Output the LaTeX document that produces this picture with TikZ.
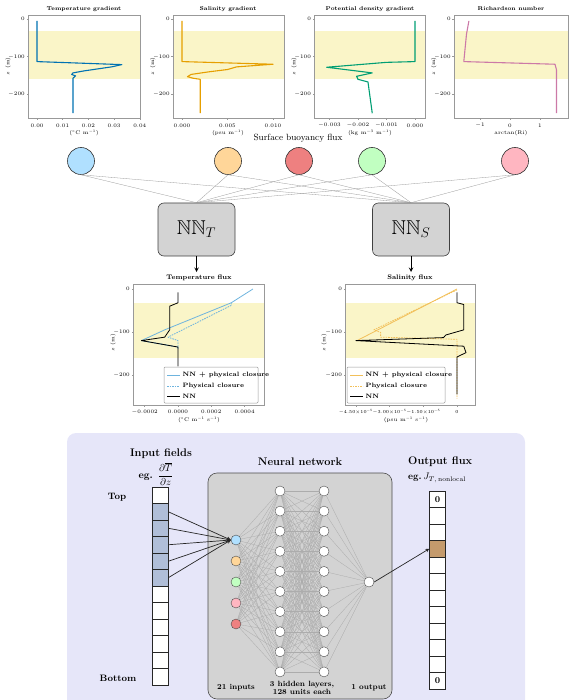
\RequirePackage{fix-cm}
\documentclass[tikz,border=0pt]{standalone}
\usepackage{fontspec}
\usepackage{amssymb}
\usepackage{tikz}
\usetikzlibrary{positioning}
\usetikzlibrary{shapes.geometric, arrows}
\definecolor{band}{RGB}{250,245,200}
\definecolor{lineT}{RGB}{0,114,178}
\definecolor{lineS}{RGB}{230,159,0}
\definecolor{lineRho}{RGB}{0,158,115}
\definecolor{lineRi}{RGB}{204,121,167}
\definecolor{fluxT}{RGB}{110,180,222}
\definecolor{fluxS}{RGB}{242,192,90}
\definecolor{featT}{RGB}{176,224,255}
\definecolor{featS}{RGB}{255,214,153}
\definecolor{featQ}{RGB}{238,128,128}
\definecolor{featRho}{RGB}{193,255,193}
\definecolor{featRi}{RGB}{255,182,193}
\definecolor{bgLav}{RGB}{230,230,249}
\definecolor{boxGray}{RGB}{211,211,211}
\definecolor{cellblue}{RGB}{176,190,216}
\definecolor{cellbrown}{RGB}{196,154,108}
\tikzstyle{frame} = [draw=gray!80, line width=0.5pt]
\tikzstyle{ticklab} = [font=\fontsize{5.3}{6}\selectfont, inner sep=0.5pt]
\tikzstyle{ptitle} = [font=\fontsize{5.6}{6.5}\selectfont\bfseries, inner sep=1pt]
\tikzstyle{ftitle} = [font=\fontsize{6.6}{7.5}\selectfont\bfseries, inner sep=1pt]
\tikzstyle{curve} = [line width=1.1pt, line join=round]
\tikzstyle{legtext} = [font=\fontsize{6.3}{7}\selectfont\bfseries, anchor=west, inner sep=0.5pt]
\tikzstyle{feature} = [circle, draw=black!80, minimum size=27pt, inner sep=0pt, line width=0.6pt]
\tikzstyle{nnblock} = [rectangle, rounded corners=6pt, draw=black!75, fill=boxGray, minimum width=77pt, minimum height=53pt, line width=0.6pt, font=\fontsize{20}{22}\selectfont]
\tikzstyle{arrow} = [line width=1pt,->,>=stealth]
\tikzstyle{link} = [draw=gray!65, line width=0.3pt]
\tikzstyle{feed} = [draw=black!85, line width=0.7pt, ->, >=stealth]
\tikzstyle{neuron} = [circle, draw=black!70, fill=white, minimum size=10pt, inner sep=0pt, line width=0.4pt]
\tikzstyle{cell} = [rectangle, draw=black!85, minimum width=16pt, minimum height=16.5pt, inner sep=0pt, line width=0.5pt, font=\fontsize{9}{10}\selectfont\bfseries]
\tikzstyle{head} = [font=\fontsize{11}{13}\selectfont\bfseries, inner sep=1pt]
\tikzstyle{side} = [font=\fontsize{9.3}{11}\selectfont\bfseries, inner sep=1pt]
\tikzstyle{note} = [font=\fontsize{7.6}{8.6}\selectfont\bfseries, inner sep=1pt, align=center]
\begin{document}
\begin{tikzpicture}[x=1pt, y=-1pt]
\useasboundingbox (0,0) rectangle (571,700);
\clip (0,0) rectangle (571,700);

% ---- top row: input profiles
\begin{scope}[shift={(37,19)}, x=25.7pt, y=0.377pt]
  \fill[band] (-0.35,-32) rectangle (4.0,-160);
  \draw[curve, lineT] plot coordinates {(0,-5) (0,-113) (3.3,-121) (2.9,-127) (1.8,-138) (1.4,-143) (1.35,-147) (1.5,-151) (1.4,-157) (1.4,-250)};
  \draw[frame] (-0.35,10.6) rectangle (4.0,-263);
  \foreach \v/\l [count=\k] in {0/0.00,1/0.01,2/0.02,3/0.03,4/0.04} {
    \draw[frame] (\v,-263) -- ++(0,-1.5pt);
    \node[ticklab] (gTx\k) at ([yshift=-7.5pt]\v,-263) {\l};
  }
  \foreach \z/\l [count=\k] in {0/0,-100/$-100$,-200/$-200$} {
    \draw[frame] (-0.35,\z) -- ++(-1.5pt,0);
    \node[ticklab, anchor=east] (gTy\k) at ([xshift=-2.5pt]-0.35,\z) {\l};
  }
  \node[ticklab, rotate=90] (gTz) at ([xshift=-20pt]-0.35,-125) {$z$ (m)};
\end{scope}
\node[ptitle] (titleTgrad) at (84,9) {Temperature gradient};
\node[ticklab] (unitTgrad) at (84,133) {($^{\circ}$C m$^{-1}$)};

\begin{scope}[shift={(182,19)}, x=9.1pt, y=0.377pt]
  \fill[band] (-1,-32) rectangle (11.2,-160);
  \draw[curve, lineS] plot coordinates {(0,-5) (0,-113) (10,-120) (6,-127) (5,-134) (3,-140) (1,-147) (0.6,-153) (1.2,-157) (2,-160) (2,-250)};
  \draw[frame] (-1,10.6) rectangle (11.2,-263);
  \foreach \v/\l [count=\k] in {0/0.000,5/0.005,10/0.010} {
    \draw[frame] (\v,-263) -- ++(0,-1.5pt);
    \node[ticklab] (gSx\k) at ([yshift=-7.5pt]\v,-263) {\l};
  }
  \foreach \z/\l [count=\k] in {0/0,-100/$-100$,-200/$-200$} {
    \draw[frame] (-1,\z) -- ++(-1.5pt,0);
    \node[ticklab, anchor=east] (gSy\k) at ([xshift=-2.5pt]-1,\z) {\l};
  }
  \node[ticklab, rotate=90] (gSz) at ([xshift=-20pt]-1,-125) {$z$ (m)};
\end{scope}
\node[ptitle] (titleSgrad) at (228,9) {Salinity gradient};
\node[ticklab] (unitSgrad) at (228,133) {(psu m$^{-1}$)};

\begin{scope}[shift={(415,19)}, x=28.5pt, y=0.377pt]
  \fill[band] (-3.54,-32) rectangle (0.35,-160);
  \draw[curve, lineRho] plot coordinates {(0,-5) (0,-113) (-1,-115) (-3.1,-128) (-1.5,-143) (-2.05,-152) (-2.0,-160) (-1.65,-167) (-1.5,-250)};
  \draw[frame] (-3.54,10.6) rectangle (0.35,-263);
  \foreach \v/\l [count=\k] in {-3/$-0.003$,-2/$-0.002$,-1/$-0.001$,0/0.000} {
    \draw[frame] (\v,-263) -- ++(0,-1.5pt);
    \node[ticklab] (gRx\k) at ([yshift=-7.5pt]\v,-263) {\l};
  }
  \foreach \z/\l [count=\k] in {0/0,-100/$-100$,-200/$-200$} {
    \draw[frame] (-3.54,\z) -- ++(-1.5pt,0);
    \node[ticklab, anchor=east] (gRy\k) at ([xshift=-2.5pt]-3.54,\z) {\l};
  }
  \node[ticklab, rotate=90] (gRz) at ([xshift=-20pt]-3.54,-125) {$z$ (m)};
\end{scope}
\node[ptitle] (titleRho) at (370,9) {Potential density gradient};
\node[ticklab] (unitRho) at (370,133) {(kg m$^{-3}$ m$^{-1}$)};

\begin{scope}[shift={(510,19)}, x=30pt, y=0.377pt]
  \fill[band] (-1.87,-32) rectangle (1.93,-160);
  \draw[curve, lineRi] plot coordinates {(-1.37,-5) (-1.45,-40) (-1.54,-113) (1.5,-120) (1.55,-135) (1.55,-250)};
  \draw[frame] (-1.87,10.6) rectangle (1.93,-263);
  \foreach \v/\l [count=\k] in {-1/$-1$,0/0,1/1} {
    \draw[frame] (\v,-263) -- ++(0,-1.5pt);
    \node[ticklab] (gIx\k) at ([yshift=-7.5pt]\v,-263) {\l};
  }
  \foreach \z/\l [count=\k] in {0/0,-100/$-100$,-200/$-200$} {
    \draw[frame] (-1.87,\z) -- ++(-1.5pt,0);
    \node[ticklab, anchor=east] (gIy\k) at ([xshift=-2.5pt]-1.87,\z) {\l};
  }
  \node[ticklab, rotate=90] (gIz) at ([xshift=-20pt]-1.87,-125) {$z$ (m)};
\end{scope}
\node[ptitle] (titleRi) at (511,9) {Richardson number};
\node[ticklab] (unitRi) at (511,133) {arctan(Ri)};

% ---- features and the two networks
\node[font=\fontsize{9}{11}\selectfont, inner sep=1pt] (buoyLabel) at (298,138) {Surface buoyancy flux};

\node[feature, fill=featT] (circT) at (81,161) {};
\node[feature, fill=featS] (circS) at (228,161) {};
\node[feature, fill=featQ] (circQ) at (299,161) {};
\node[feature, fill=featRho] (circRho) at (372,161) {};
\node[feature, fill=featRi] (circRi) at (515,161) {};

\node[nnblock] (nnT) at (196.5,229.5) {$\mathbb{NN}_T$};
\node[nnblock] (nnS) at (411,229.5) {$\mathbb{NN}_S$};

\foreach \c in {circT,circS,circQ,circRho,circRi} {
  \draw[link, draw=gray!80] (\c.south) -- (nnT.north);
  \draw[link, draw=gray!80] (\c.south) -- (nnS.north);
}

\coordinate (fluxTtop) at (196.5,272);
\coordinate (fluxStop) at (411,272);
\draw[arrow] (nnT.south) -- (fluxTtop);
\draw[arrow] (nnS.south) -- (fluxStop);

% ---- predicted fluxes
\node[ftitle] (titleFluxT) at (199,278) {Temperature flux};
\begin{scope}[shift={(178,289)}, x=16.65pt, y=0.43pt]
  \fill[band] (-2.7,-32) rectangle (5.17,-160);
  \draw[curve, fluxT, line width=0.8pt] plot coordinates {(4.5,0) (3.2,-32) (-0.8,-95) (-2.2,-120) (0,-135) (0,-140)};
  \draw[curve, fluxT, line width=0.8pt, dash pattern=on 1.6pt off 1pt] plot coordinates {(3.2,-32) (3.2,-38) (-0.6,-112) (0,-120) (0,-135)};
  \draw[curve, black, line width=0.8pt] plot coordinates {(0,-8) (0,-32) (-0.5,-40) (-0.5,-95) (-0.8,-112) (-2.2,-120) (0,-135) (0,-180)};
  \draw[frame] (-2.7,11.6) rectangle (5.17,-270);
  \foreach \v/\l [count=\k] in {-2/$-0.0002$,0/0.0000,2/0.0002,4/0.0004} {
    \draw[frame] (\v,-270) -- ++(0,-1.5pt);
    \node[ticklab] (fTx\k) at ([yshift=-7pt]\v,-270) {\l};
  }
  \foreach \z/\l [count=\k] in {0/0,-100/$-100$,-200/$-200$} {
    \draw[frame] (-2.7,\z) -- ++(-1.5pt,0);
    \node[ticklab, anchor=east] (fTy\k) at ([xshift=-2.5pt]-2.7,\z) {\l};
  }
  \node[ticklab, rotate=90] (fTz) at ([xshift=-20pt]-2.7,-125) {$z$ (m)};
\end{scope}
\node[ticklab] (unitFluxT) at (199,420) {($^{\circ}$C m$^{-1}$ s$^{-1}$)};
\draw[frame, fill=white, rounded corners=1pt] (164,367) rectangle (258,403);
\draw[fluxT, line width=0.8pt] (167,375) -- (180,375);
\draw[fluxT, line width=0.8pt, dash pattern=on 1.6pt off 1pt] (167,386) -- (180,386);
\draw[black, line width=0.8pt] (167,396) -- (180,396);
\node[legtext] (legT1) at (182,375) {NN + physical closure};
\node[legtext] (legT2) at (182,386) {Physical closure};
\node[legtext] (legT3) at (182,396) {NN};

\node[ftitle] (titleFluxS) at (410,278) {Salinity flux};
\begin{scope}[shift={(457,289)}, x=22.47pt, y=0.43pt]
  \fill[band] (-4.98,-32) rectangle (0.8,-160);
  \draw[curve, fluxS, line width=0.8pt] plot coordinates {(0,0) (-4.45,-120)};
  \draw[curve, fluxS, line width=0.8pt, dash pattern=on 1.6pt off 1pt] plot coordinates {(0,-2) (-3.7,-95) (-3.4,-101) (-3.4,-112) (0,-117) (0,-255)};
  \draw[curve, black, line width=0.8pt] plot coordinates {(0,-8) (0,-32) (0.3,-36) (0.3,-95) (-0.5,-107) (-0.6,-113) (-4.5,-120) (0.3,-133) (0.4,-148) (0,-158) (0,-245)};
  \draw[frame] (-4.98,11.6) rectangle (0.8,-270);
  \foreach \v/\l [count=\k] in {-4.5/$-4.50{\times}10^{-5}$,-3/$-3.00{\times}10^{-5}$,-1.5/$-1.50{\times}10^{-5}$,0/0} {
    \draw[frame] (\v,-270) -- ++(0,-1.5pt);
    \node[ticklab, font=\fontsize{4.6}{5}\selectfont, inner sep=0pt] (fSx\k) at ([yshift=-7pt]\v,-270) {\l};
  }
  \foreach \z/\l [count=\k] in {0/0,-100/$-100$,-200/$-200$} {
    \draw[frame] (-4.98,\z) -- ++(-1.5pt,0);
    \node[ticklab, anchor=east] (fSy\k) at ([xshift=-2.5pt]-4.98,\z) {\l};
  }
  \node[ticklab, rotate=90] (fSz) at ([xshift=-21pt]-4.98,-125) {$z$ (m)};
\end{scope}
\node[ticklab] (unitFluxS) at (406,420) {(psu m$^{-1}$ s$^{-1}$)};
\draw[frame, fill=white, rounded corners=1pt] (347,367) rectangle (445,403);
\draw[fluxS, line width=0.8pt] (350,375) -- (363,375);
\draw[fluxS, line width=0.8pt, dash pattern=on 1.6pt off 1pt] (350,386) -- (363,386);
\draw[black, line width=0.8pt] (350,396) -- (363,396);
\node[legtext] (legS1) at (365,375) {NN + physical closure};
\node[legtext] (legS2) at (365,386) {Physical closure};
\node[legtext] (legS3) at (365,396) {NN};

% ---- network detail
\fill[bgLav, rounded corners=9pt] (67,433) rectangle (525,730);
\draw[draw=black!70, fill=boxGray, rounded corners=9pt, line width=0.6pt] (208,473) rectangle (392,699);

\node[head] (inHead) at (161,454) {Input fields};
\node[font=\fontsize{10}{12}\selectfont\bfseries, inner sep=1pt] (inEg) at (156,474) {eg. $\displaystyle\frac{\partial \overline{T}}{\partial z}$};
\node[side] (topLab) at (117,497) {Top};
\node[side] (botLab) at (118,678) {Bottom};
\node[head] (nnHead) at (300,462) {Neural network};
\node[head, anchor=west] (outHead) at (407,462) {Output flux};
\node[font=\fontsize{9.5}{11}\selectfont\bfseries, anchor=west, inner sep=1pt] (outEg) at (407,478) {eg.\,$J_{T,\,\mathrm{nonlocal}}$};

\foreach \i/\f in {1/white,2/cellblue,3/cellblue,4/cellblue,5/cellblue,6/cellblue,7/white,8/white,9/white,10/white,11/white,12/white}
  \node[cell, fill=\f] (inCell\i) at (160,478.75+16.5*\i) {};
\foreach \i/\f/\t in {1/white/0,2/white/,3/white/,4/cellbrown/,5/white/,6/white/,7/white/,8/white/,9/white/,10/white/,11/white/,12/white/0}
  \node[cell, fill=\f] (outCell\i) at (437.5,482.75+16.5*\i) {\t};

\foreach \i/\c in {0/featT,1/featS,2/featRho,3/featRi,4/featQ}
  \node[neuron, fill=\c] (in\i) at (236,540+21*\i) {};
\foreach \j in {0,...,9} {
  \node[neuron] (hA\j) at (280,491+20.1*\j) {};
  \node[neuron] (hB\j) at (324,491+20.1*\j) {};
}
\node[neuron] (outN) at (369,582) {};

\foreach \i in {0,...,4}
  \foreach \j in {0,...,9}
    \draw[link] (in\i) -- (hA\j);
\foreach \i in {0,...,9}
  \foreach \j in {0,...,9}
    \draw[link] (hA\i) -- (hB\j);
\foreach \j in {0,...,9}
  \draw[link] (hB\j) -- (outN);

\foreach \i in {2,...,6}
  \draw[feed] (inCell\i.east) -- (in0.west);
\draw[feed] (outN.east) -- (outCell4.west);

\node[note] (inNote) at (236,688) {21 inputs};
\node[note] (hidNote) at (302,688) {3 hidden layers,\\128 units each};
\node[note] (outNote) at (369,688) {1 output};

\end{tikzpicture}
\end{document}
